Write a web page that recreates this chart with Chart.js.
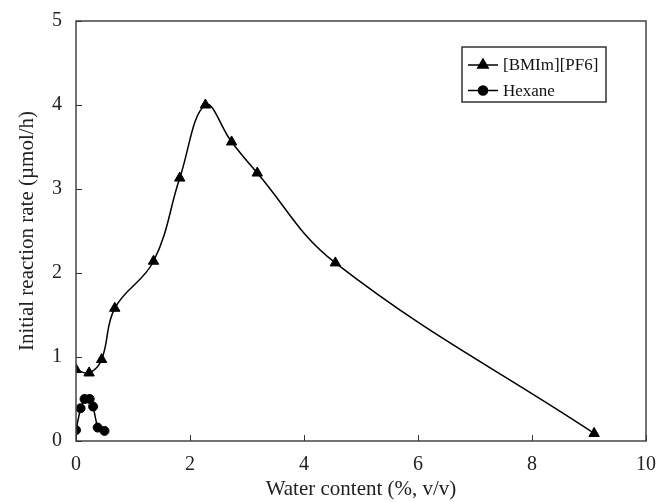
<!DOCTYPE html>
<html>
<head>
<meta charset="utf-8">
<script src="https://cdn.jsdelivr.net/npm/chart.js@4/dist/chart.umd.min.js"></script>
<style>
html,body{margin:0;padding:0;background:#fff;}
#wrap{position:relative;width:657px;height:502px;}
</style>
</head>
<body>
<div id="wrap"><canvas id="c" width="657" height="502"></canvas></div>
<script>
// Data
const waterBMIm = [0, 0.23, 0.45, 0.68, 1.36, 1.82, 2.27, 2.73, 3.18, 4.55, 9.09];
const rateBMIm  = [0.85, 0.81, 0.97, 1.58, 2.14, 3.13, 4.00, 3.56, 3.19, 2.12, 0.09];
const waterHexane = [0, 0.08, 0.15, 0.24, 0.30, 0.38, 0.50];
const rateHexane  = [0.13, 0.39, 0.50, 0.50, 0.41, 0.16, 0.12];
const xTicks = [0, 2, 4, 6, 8, 10];
const yTicks = [0, 1, 2, 3, 4, 5];
const seriesNames = ['[BMIm][PF6]', 'Hexane'];
const xTitle = 'Water content (%, v/v)';
const yTitle = 'Initial reaction rate (\u00b5mol/h)';

const FONT = "'Liberation Serif', 'Times New Roman', serif";

function pts(xs, ys){ return xs.map((x,i)=>({x:x, y:ys[i]})); }

const framePlugin = {
  id: 'frame',
  afterDatasetsDraw(chart){
    const ctx = chart.ctx, a = chart.chartArea;
    const xs = chart.scales.x, ys = chart.scales.y;
    ctx.save();
    ctx.strokeStyle = '#444';
    ctx.lineWidth = 1.5;
    ctx.strokeRect(a.left, a.top, a.right - a.left, a.bottom - a.top);
    ctx.lineWidth = 1;
    ctx.strokeStyle = '#333';
    xTicks.forEach(v=>{
      const px = Math.round(xs.getPixelForValue(v)) + 0.5;
      ctx.beginPath(); ctx.moveTo(px, a.bottom); ctx.lineTo(px, a.bottom - 6); ctx.stroke();
    });
    yTicks.forEach(v=>{
      const py = Math.round(ys.getPixelForValue(v)) + 0.5;
      ctx.beginPath(); ctx.moveTo(a.left, py); ctx.lineTo(a.left + 6, py); ctx.stroke();
    });
    // legend
    const L = {x: 462, y: 47, w: 144, h: 55};
    ctx.fillStyle = '#fff';
    ctx.fillRect(L.x, L.y, L.w, L.h);
    ctx.strokeStyle = '#333';
    ctx.lineWidth = 1.5;
    ctx.strokeRect(L.x, L.y, L.w, L.h);
    const rowsY = [65, 90.5];
    chart.data.datasets.forEach((ds, i)=>{
      const y = rowsY[i];
      ctx.strokeStyle = '#000';
      ctx.lineWidth = 1.5;
      ctx.beginPath(); ctx.moveTo(468, y); ctx.lineTo(498, y); ctx.stroke();
      Chart.helpers.drawPoint(ctx, {pointStyle: ds.pointStyle, radius: ds.pointRadius, rotation: 0, borderWidth: 1}, 483, y);
      ctx.fillStyle = '#000';
      ctx.fill();
      ctx.fillStyle = '#111';
      ctx.font = "17px " + FONT;
      ctx.textBaseline = 'middle';
      ctx.textAlign = 'left';
      ctx.fillText(ds.label, 503, y + 1);
    });
    ctx.restore();
  }
};

new Chart(document.getElementById('c'), {
  type: 'scatter',
  data: {
    datasets: [
      {
        label: seriesNames[0],
        data: pts(waterBMIm, rateBMIm),
        showLine: true,
        tension: 0.4,
        borderColor: '#000',
        borderWidth: 1.5,
        pointStyle: 'triangle',
        pointRadius: 6,
        pointBackgroundColor: '#000',
        pointBorderColor: '#000',
        pointBorderWidth: 1
      },
      {
        label: seriesNames[1],
        data: pts(waterHexane, rateHexane),
        showLine: true,
        tension: 0.1,
        borderColor: '#000',
        borderWidth: 1.5,
        pointStyle: 'circle',
        pointRadius: 4.5,
        pointBackgroundColor: '#000',
        pointBorderColor: '#000',
        pointBorderWidth: 1
      }
    ]
  },
  options: {
    responsive: false,
    animation: false,
    devicePixelRatio: 1,
    layout: {padding: {left: 0, right: 11, top: 21, bottom: 0}},
    plugins: {legend: {display: false}, tooltip: {enabled: false}},
    scales: {
      x: {
        type: 'linear', min: 0, max: 10,
        afterFit(s){ s.height = 61; s.paddingLeft = 0; s.paddingRight = 0; },
        afterBuildTicks(s){ s.ticks = xTicks.map(v=>({value:v})); },
        grid: {display: false, drawTicks: false},
        border: {display: false},
        ticks: {color: '#222', padding: 12, font: {family: FONT, size: 20}, maxRotation: 0},
        title: {display: true, text: xTitle, color: '#222', font: {family: FONT, size: 21}, padding: {top: 2, bottom: 0}}
      },
      y: {
        type: 'linear', min: 0, max: 5,
        afterFit(s){ s.width = 76; s.paddingTop = 0; s.paddingBottom = 0; },
        afterBuildTicks(s){ s.ticks = yTicks.map(v=>({value:v})); },
        grid: {display: false, drawTicks: false},
        border: {display: false},
        ticks: {color: '#222', padding: 14, font: {family: FONT, size: 20}},
        title: {display: true, text: yTitle, color: '#222', font: {family: FONT, size: 21}, padding: {top: 15, bottom: 4}}
      }
    }
  },
  plugins: [framePlugin]
});
</script>
</body>
</html>
